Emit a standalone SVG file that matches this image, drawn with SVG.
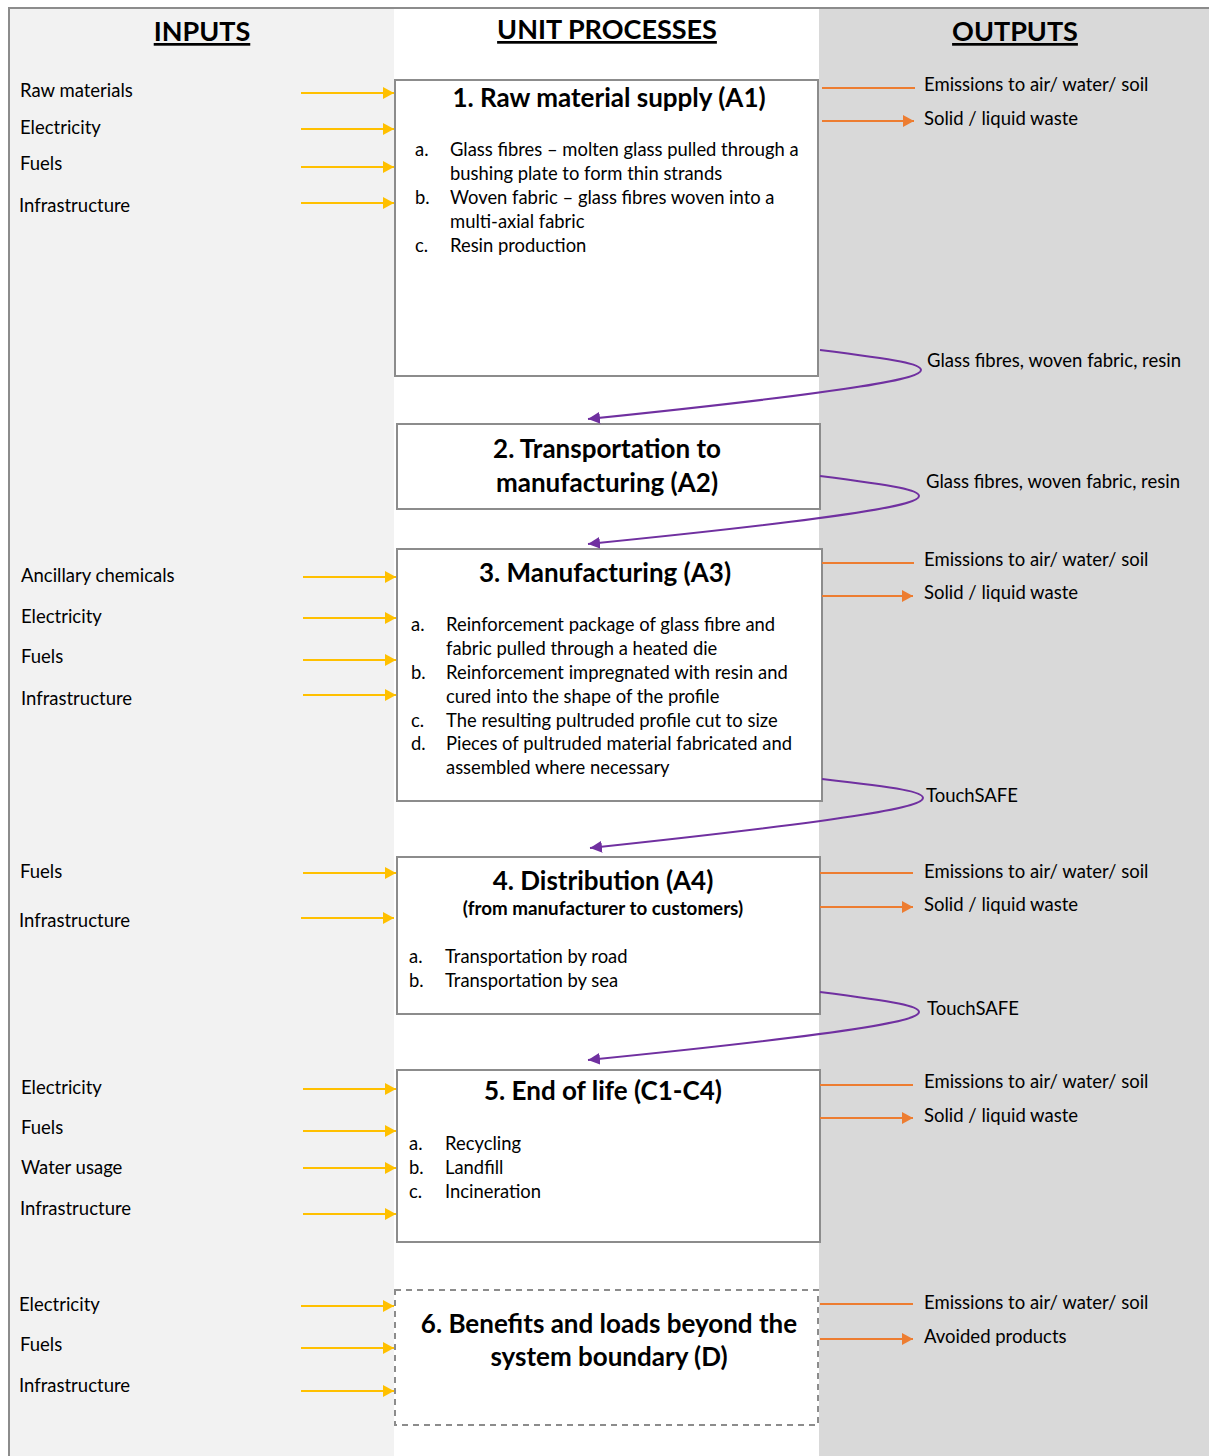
<svg xmlns="http://www.w3.org/2000/svg" width="1209" height="1456" viewBox="0 0 1209 1456">
<style>
text{font-family:Lato,"Open Sans","Liberation Sans",sans-serif;fill:#000}
.hdr{font-size:27px;font-weight:bold;text-anchor:middle;text-decoration:underline}
.lbl{font-size:18.5px}
.ttl{font-size:26px;font-weight:bold;text-anchor:middle}
.sub{font-size:18.8px;font-weight:bold;text-anchor:middle}
.li{font-size:18.4px}
.box{fill:#fff;stroke:#8c8c8c;stroke-width:2}
.dbox{fill:#fff;stroke:#8c8c8c;stroke-width:2;stroke-dasharray:6 5}
.in{stroke:#ffc000;stroke-width:2;fill:none;marker-end:url(#ay)}
.em{stroke:#ed7d31;stroke-width:2;fill:none}
.wa{stroke:#ed7d31;stroke-width:2;fill:none;marker-end:url(#ao)}
.fl{stroke:#7030a0;stroke-width:2;fill:none;marker-end:url(#ap)}
</style>
<defs>
<marker id="ay" markerUnits="userSpaceOnUse" markerWidth="12" markerHeight="12" refX="11" refY="6" orient="auto"><path d="M0,0 L11,6 L0,12 Z" fill="#ffc000"/></marker>
<marker id="ao" markerUnits="userSpaceOnUse" markerWidth="12" markerHeight="12" refX="11" refY="6" orient="auto"><path d="M0,0 L11,6 L0,12 Z" fill="#ed7d31"/></marker>
<marker id="ap" markerUnits="userSpaceOnUse" markerWidth="14" markerHeight="12" refX="12" refY="6" orient="auto"><path d="M0,0 L12,6 L0,12 Z" fill="#7030a0"/></marker>
</defs>
<rect x="0" y="0" width="1209" height="1456" fill="#fff"/>
<rect x="9" y="8" width="385" height="1448" fill="#f2f2f2"/>
<rect x="394" y="8" width="425" height="1448" fill="#fff"/>
<rect x="819" y="8" width="390" height="1448" fill="#d9d9d9"/>
<path d="M9,1456 V8 H1209" fill="none" stroke="#8c8c8c" stroke-width="2"/>
<g id="headers">
<text class="hdr" x="202" y="41">INPUTS</text>
<text class="hdr" x="607" y="39">UNIT PROCESSES</text>
<text class="hdr" x="1015" y="41">OUTPUTS</text>
</g>
<g id="node1">
<rect class="box" x="395" y="80" width="423" height="296"/>
<text class="ttl" x="609" y="107">1. Raw material supply (A1)</text>
<text class="li" x="415" y="156">a.</text><text class="li" x="450" y="156">Glass fibres – molten glass pulled through a</text>
<text class="li" x="450" y="180">bushing plate to form thin strands</text>
<text class="li" x="415" y="204">b.</text><text class="li" x="450" y="204">Woven fabric – glass fibres woven into a</text>
<text class="li" x="450" y="228">multi-axial fabric</text>
<text class="li" x="415" y="252">c.</text><text class="li" x="450" y="252">Resin production</text>
</g>
<g id="node2">
<rect class="box" x="397" y="424" width="423" height="85"/>
<text class="ttl" x="607" y="458">2. Transportation to</text>
<text class="ttl" x="607" y="492">manufacturing (A2)</text>
</g>
<g id="node3">
<rect class="box" x="397" y="549" width="425" height="252"/>
<text class="ttl" x="605" y="582">3. Manufacturing (A3)</text>
<text class="li" x="411" y="631">a.</text><text class="li" x="446" y="631">Reinforcement package of glass fibre and</text>
<text class="li" x="446" y="655">fabric pulled through a heated die</text>
<text class="li" x="411" y="679">b.</text><text class="li" x="446" y="679">Reinforcement impregnated with resin and</text>
<text class="li" x="446" y="703">cured into the shape of the profile</text>
<text class="li" x="411" y="727">c.</text><text class="li" x="446" y="727">The resulting pultruded profile cut to size</text>
<text class="li" x="411" y="750">d.</text><text class="li" x="446" y="750">Pieces of pultruded material fabricated and</text>
<text class="li" x="446" y="774">assembled where necessary</text>
</g>
<g id="node4">
<rect class="box" x="397" y="857" width="423" height="157"/>
<text class="ttl" x="603" y="890">4. Distribution (A4)</text>
<text class="sub" x="603" y="915">(from manufacturer to customers)</text>
<text class="li" x="409" y="963">a.</text><text class="li" x="445" y="963">Transportation by road</text>
<text class="li" x="409" y="987">b.</text><text class="li" x="445" y="987">Transportation by sea</text>
</g>
<g id="node5">
<rect class="box" x="397" y="1070" width="423" height="172"/>
<text class="ttl" x="603" y="1100">5. End of life (C1-C4)</text>
<text class="li" x="409" y="1150">a.</text><text class="li" x="445" y="1150">Recycling</text>
<text class="li" x="409" y="1174">b.</text><text class="li" x="445" y="1174">Landfill</text>
<text class="li" x="409" y="1198">c.</text><text class="li" x="445" y="1198">Incineration</text>
</g>
<g id="node6">
<rect class="dbox" x="395" y="1290" width="423" height="135"/>
<text class="ttl" x="609" y="1333">6. Benefits and loads beyond the</text>
<text class="ttl" x="609" y="1366">system boundary (D)</text>
</g>
<g id="input-labels">
<text class="lbl" x="20" y="97">Raw materials</text>
<text class="lbl" x="20" y="134">Electricity</text>
<text class="lbl" x="20" y="170">Fuels</text>
<text class="lbl" x="19" y="212">Infrastructure</text>
<text class="lbl" x="21" y="582">Ancillary chemicals</text>
<text class="lbl" x="21" y="623">Electricity</text>
<text class="lbl" x="21" y="663">Fuels</text>
<text class="lbl" x="21" y="705">Infrastructure</text>
<text class="lbl" x="20" y="878">Fuels</text>
<text class="lbl" x="19" y="927">Infrastructure</text>
<text class="lbl" x="21" y="1094">Electricity</text>
<text class="lbl" x="21" y="1134">Fuels</text>
<text class="lbl" x="21" y="1174">Water usage</text>
<text class="lbl" x="20" y="1215">Infrastructure</text>
<text class="lbl" x="19" y="1311">Electricity</text>
<text class="lbl" x="20" y="1351">Fuels</text>
<text class="lbl" x="19" y="1392">Infrastructure</text>
</g>
<g id="output-labels">
<text class="lbl" x="924" y="91">Emissions to air/ water/ soil</text>
<text class="lbl" x="924" y="125">Solid / liquid waste</text>
<text class="lbl" x="927" y="367">Glass fibres, woven fabric, resin</text>
<text class="lbl" x="926" y="488">Glass fibres, woven fabric, resin</text>
<text class="lbl" x="924" y="566">Emissions to air/ water/ soil</text>
<text class="lbl" x="924" y="599">Solid / liquid waste</text>
<text class="lbl" x="926" y="802">TouchSAFE</text>
<text class="lbl" x="924" y="878">Emissions to air/ water/ soil</text>
<text class="lbl" x="924" y="911">Solid / liquid waste</text>
<text class="lbl" x="927" y="1015">TouchSAFE</text>
<text class="lbl" x="924" y="1088">Emissions to air/ water/ soil</text>
<text class="lbl" x="924" y="1122">Solid / liquid waste</text>
<text class="lbl" x="924" y="1309">Emissions to air/ water/ soil</text>
<text class="lbl" x="924" y="1343">Avoided products</text>
</g>
<g id="connectors">
<line class="in" x1="301" y1="93" x2="394" y2="93"/>
<line class="in" x1="301" y1="129" x2="394" y2="129"/>
<line class="in" x1="301" y1="167" x2="394" y2="167"/>
<line class="in" x1="301" y1="203" x2="394" y2="203"/>
<line class="in" x1="303" y1="577" x2="396" y2="577"/>
<line class="in" x1="303" y1="618" x2="396" y2="618"/>
<line class="in" x1="303" y1="660" x2="396" y2="660"/>
<line class="in" x1="303" y1="695" x2="396" y2="695"/>
<line class="in" x1="303" y1="873" x2="396" y2="873"/>
<line class="in" x1="301" y1="918" x2="394" y2="918"/>
<line class="in" x1="303" y1="1089" x2="396" y2="1089"/>
<line class="in" x1="303" y1="1131" x2="396" y2="1131"/>
<line class="in" x1="303" y1="1168" x2="396" y2="1168"/>
<line class="in" x1="303" y1="1214" x2="396" y2="1214"/>
<line class="in" x1="301" y1="1306" x2="394" y2="1306"/>
<line class="in" x1="301" y1="1348" x2="394" y2="1348"/>
<line class="in" x1="301" y1="1391" x2="394" y2="1391"/>
<line class="em" x1="822" y1="88" x2="915" y2="88"/>
<line class="wa" x1="822" y1="121" x2="914" y2="121"/>
<line class="em" x1="822" y1="563" x2="914" y2="563"/>
<line class="wa" x1="822" y1="596" x2="913" y2="596"/>
<line class="em" x1="820" y1="873" x2="913" y2="873"/>
<line class="wa" x1="820" y1="907" x2="913" y2="907"/>
<line class="em" x1="820" y1="1085" x2="913" y2="1085"/>
<line class="wa" x1="820" y1="1118" x2="913" y2="1118"/>
<line class="em" x1="820" y1="1304" x2="913" y2="1304"/>
<line class="wa" x1="820" y1="1339" x2="913" y2="1339"/>
<path class="fl" d="M820,350 C900,360 921,364 921,370 C921,378 870,390 588,419"/>
<path class="fl" d="M820,476 C898,486 919,490 919,496 C919,504 868,516 588,544"/>
<path class="fl" d="M822,779 C902,788 923,792 923,798 C923,806 872,818 590,848"/>
<path class="fl" d="M820,992 C898,1002 919,1006 919,1012 C919,1020 868,1032 588,1060"/>
</g>
</svg>
